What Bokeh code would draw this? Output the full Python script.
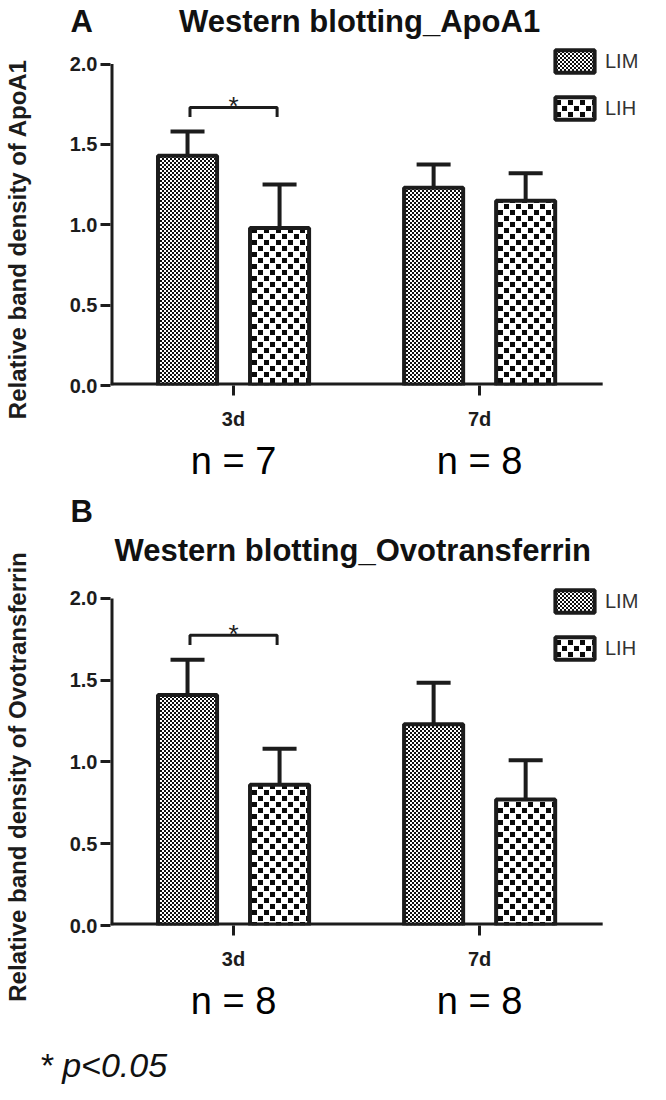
import base64, struct, zlib
from bokeh.plotting import figure
from bokeh.models import (Range1d, LinearAxis, FixedTicker, Whisker, TeeHead, ColumnDataSource,
                          Legend, LegendItem, Title, ImageURLTexture, PrintfTickFormatter)
from bokeh.transform import dodge
from bokeh.layouts import column
from bokeh.embed import file_html
from bokeh.resources import INLINE
from bokeh.core.properties import value

# ---------------- data ----------------
days = ["3d", "7d"]
groups = ["LIM", "LIH"]

apoa1_lim = [1.43, 1.23]
apoa1_lim_sd = [0.15, 0.145]
apoa1_lih = [0.98, 1.15]
apoa1_lih_sd = [0.27, 0.17]
apoa1_n = [7, 8]
apoa1_sig = ["3d"]

ovo_lim = [1.41, 1.23]
ovo_lim_sd = [0.215, 0.255]
ovo_lih = [0.86, 0.77]
ovo_lih_sd = [0.22, 0.24]
ovo_n = [8, 8]
ovo_sig = ["3d"]

y_ticks = [0.0, 0.5, 1.0, 1.5, 2.0]

# ---------------- styles / layout ----------------
FONT = "Liberation Sans"
INK = "#1c1c1c"
OFF = 0.187
BAR_W = 0.24
W = 650
LEFT = 108          # frame left inside each plot
AXIS_PX = 494       # pixels spanned by the two day groups
NBSP = "\u00a0"


def png_data_url(rows):
    h = len(rows)
    w = len(rows[0])
    raw = b"".join(b"\x00" + bytes(r) for r in rows)

    def chunk(tag, data):
        return (struct.pack(">I", len(data)) + tag + data +
                struct.pack(">I", zlib.crc32(tag + data) & 0xffffffff))

    png = (b"\x89PNG\r\n\x1a\n" +
           chunk(b"IHDR", struct.pack(">IIBBBBB", w, h, 8, 0, 0, 0, 0)) +
           chunk(b"IDAT", zlib.compress(raw)) + chunk(b"IEND", b""))
    return "data:image/png;base64," + base64.b64encode(png).decode()


fine_tile = [[15 if ((x // 2) + (y // 2)) % 2 == 0 else 255 for x in range(4)] for y in range(4)]
coarse_tile = [[10 if ((x < 5 and y < 5) or (6 <= x < 11 and 6 <= y < 11)) else 255
                for x in range(12)] for y in range(12)]
TEX = {"lim": png_data_url(fine_tile), "lih": png_data_url(coarse_tile)}


def head_title(text, offset, size="31px", style="bold"):
    return Title(text=text, align="left", offset=offset, standoff=2, text_font=FONT,
                 text_font_size=size, text_font_style=style, text_color="#111111")


def make_panel(titles, ylabel, pad, lim, lim_sd, lih, lih_sd, ns, sig_days,
               height, top, top_px, bottom):
    centers = [i + 0.5 for i in range(len(days))]
    frame_w = W - LEFT
    frame_h = height - top - bottom
    x_end = len(days) * frame_w / AXIS_PX
    y_end = y_ticks[-1] * frame_h / (frame_h - top_px)
    p = figure(x_range=Range1d(0, x_end), y_range=Range1d(0, y_end),
               width=W, height=height, output_backend="svg", toolbar_location=None,
               min_border_left=LEFT, min_border_right=0, min_border_top=top,
               min_border_bottom=bottom, outline_line_color=None,
               background_fill_color="white", border_fill_color="white")
    p.xgrid.visible = False
    p.ygrid.visible = False
    for t in titles:
        p.add_layout(t, "above")

    # axes
    p.yaxis.ticker = FixedTicker(ticks=y_ticks)
    p.yaxis.formatter = PrintfTickFormatter(format="%.1f")
    p.yaxis.axis_label = ylabel + NBSP * pad
    p.yaxis.axis_label_text_font = FONT
    p.yaxis.axis_label_text_font_size = "24px"
    p.yaxis.axis_label_text_font_style = "bold"
    p.yaxis.axis_label_text_color = INK
    p.yaxis.axis_label_standoff = 36
    p.xaxis.ticker = FixedTicker(ticks=centers)
    p.xaxis.major_label_overrides = {c: d for c, d in zip(centers, days)}
    for ax in (p.yaxis, p.xaxis):
        ax.major_label_text_font = FONT
        ax.major_label_text_font_size = "20px"
        ax.major_label_text_font_style = "bold"
        ax.major_label_text_color = INK
        ax.axis_line_color = None
        ax.major_tick_line_width = 3
        ax.major_tick_line_color = INK
        ax.major_tick_in = 0
        ax.major_tick_out = 10
        ax.minor_tick_line_color = None
    p.yaxis.major_label_standoff = 3
    p.xaxis.major_label_standoff = 12

    # n-labels axis
    n_axis = LinearAxis(ticker=FixedTicker(ticks=centers),
                        major_label_overrides={c: f"n = {n}" for c, n in zip(centers, ns)},
                        axis_line_color=None, major_tick_line_color=None,
                        minor_tick_line_color=None, major_tick_out=0, major_tick_in=0,
                        major_label_text_font=FONT, major_label_text_font_size="38px",
                        major_label_text_color="black", major_label_standoff=7)
    p.add_layout(n_axis, "below")

    renderers = []
    for name, vals, sds, off in (("LIM", lim, lim_sd, -OFF), ("LIH", lih, lih_sd, OFF)):
        key = name.lower()
        src = ColumnDataSource(dict(x=centers, day=days, mean=vals,
                                    upper=[v + s for v, s in zip(vals, sds)],
                                    lower=[v - s for v, s in zip(vals, sds)]))
        r = p.vbar(x=dodge("x", off), top="mean", width=BAR_W,
                   source=src, fill_color="white", line_color=INK, line_width=4,
                   hatch_pattern=value(key), hatch_extra={key: ImageURLTexture(url=TEX[key])})
        renderers.append(r)
        w = Whisker(base=dodge("x", off), upper="upper", lower="lower",
                    source=src, line_width=4, line_color=INK,
                    upper_head=TeeHead(size=34, line_width=4, line_color=INK),
                    lower_head=TeeHead(size=34, line_width=4, line_color=INK))
        p.add_layout(w)

    # axis lines (x axis spans the day groups, y axis stops at the top tick)
    p.segment(x0=[0, 0], y0=[0, 0], x1=[len(days), 0], y1=[0, y_ticks[-1]],
              line_width=6, line_color=INK)

    # significance brackets
    for d in sig_days:
        i = days.index(d)
        xc = centers[i]
        top_y = max(lim[i] + lim_sd[i], lih[i] + lih_sd[i]) + 0.15
        xs = [xc - OFF + 0.01, xc - OFF + 0.01, xc + OFF - 0.01, xc + OFF - 0.01]
        ys = [top_y - 0.06, top_y, top_y, top_y - 0.06]
        p.line(xs, ys, line_width=3, line_color=INK)
        p.text(x=[xc], y=[top_y], text=["*"], text_align="center",
               text_baseline="alphabetic", y_offset=-1, text_font=value(FONT),
               text_font_size="26px", text_color=INK)

    legend = Legend(items=[LegendItem(label=g, renderers=[r]) for g, r in zip(groups, renderers)],
                    location=(440, 263), glyph_width=49, glyph_height=28, spacing=19,
                    label_standoff=6, label_text_font=FONT, label_text_font_size="20px",
                    label_text_color="#333333", border_line_color=None,
                    background_fill_alpha=0, padding=0, margin=0, label_height=22)
    p.add_layout(legend)
    return p


plot_a = make_panel([head_title("A" + NBSP * 10 + "Western blotting_ApoA1", -40)],
                    "Relative band density of ApoA1", 8,
                    apoa1_lim, apoa1_lim_sd, apoa1_lih, apoa1_lih_sd, apoa1_n, apoa1_sig,
                    height=490, top=32, top_px=25, bottom=105)
plot_b = make_panel([head_title("Western blotting_Ovotransferrin", 4), head_title("B", -40)],
                    "Relative band density of Ovotransferrin", 9,
                    ovo_lim, ovo_lim_sd, ovo_lih, ovo_lih_sd, ovo_n, ovo_sig,
                    height=534, top=77, top_px=30, bottom=99)

foot = figure(width=W, height=60, x_range=Range1d(0, 1), y_range=Range1d(0, 1),
              x_axis_type=None, y_axis_type=None, output_backend="svg",
              toolbar_location=None, min_border=0, min_border_left=0, min_border_right=0,
              min_border_top=0, min_border_bottom=0, outline_line_color=None,
              border_fill_color="white", background_fill_color="white")
if "frame_align" in foot.properties():
    foot.frame_align = False
foot.add_layout(head_title("* p<0.05", 39, size="34px", style="italic"), "below")

layout = column(plot_a, plot_b, foot, spacing=0)
open("out.html", "w").write(file_html(layout, INLINE))
